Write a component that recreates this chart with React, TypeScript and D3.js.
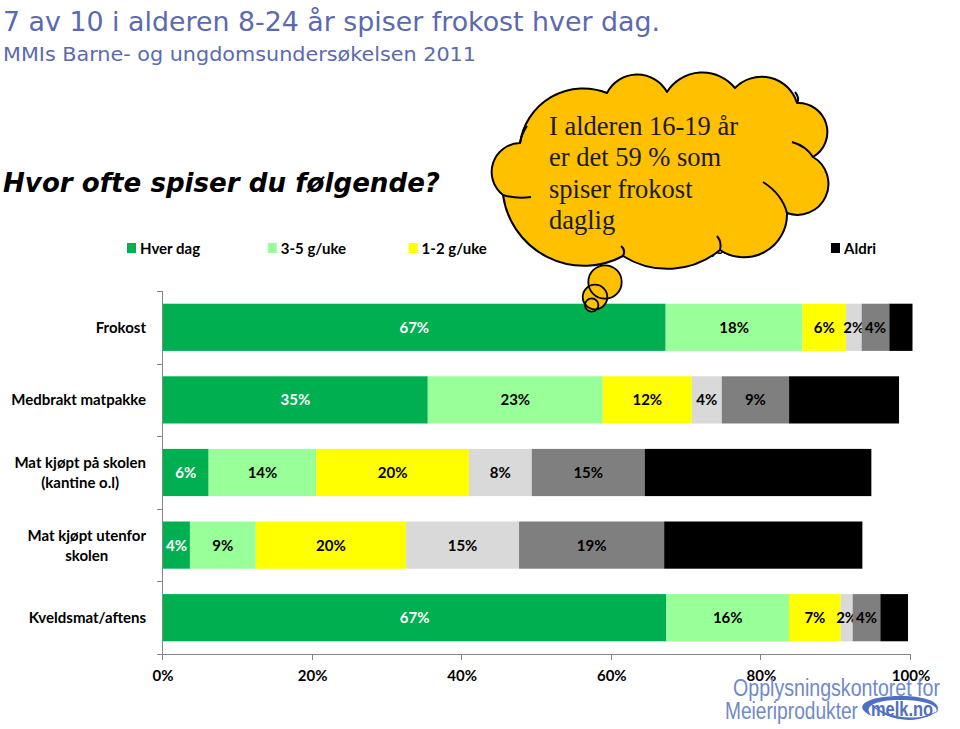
import React, { useEffect, useRef } from "react";
import * as d3 from "d3";

const categories = [
  "Frokost",
  "Medbrakt matpakke",
  "Mat kjøpt på skolen\n(kantine o.l)",
  "Mat kjøpt utenfor\nskolen",
  "Kveldsmat/aftens",
];
const seriesNames = ["Hver dag", "3-5 g/uke", "1-2 g/uke", "1-3 g/mnd", "Sjeldnere", "Aldri"];
const seriesColors = ["#00B050", "#99FF99", "#FFFF00", "#D9D9D9", "#7F7F7F", "#000000"];
const labelColors = ["#FFFFFF", "#000000", "#000000", "#000000", "#000000", "none"];
const hverDag = [67.2, 35.4, 6.1, 3.6, 67.3];
const g35uke = [18.3, 23.4, 14.4, 8.8, 16.4];
const g12uke = [5.8, 11.9, 20.4, 20.1, 6.9];
const g13mnd = [2.1, 4.0, 8.4, 15.1, 1.6];
const sjeldnere = [3.7, 9.0, 15.1, 19.4, 3.7];
const aldri = [3.1, 14.7, 30.3, 26.5, 3.7];
const xTicks = [0, 20, 40, 60, 80, 100];

const titleText = "7 av 10 i alderen 8-24 år spiser frokost hver dag.";
const subtitleText = "MMIs Barne- og ungdomsundersøkelsen 2011";
const questionText = "Hvor ofte spiser du følgende?";
const cloudLines = ["I alderen 16-19 år", "er det 59 % som", "spiser frokost", "daglig"];
const logoLines = ["Opplysningskontoret for", "Meieriprodukter"];

export default function App() {
  const ref = useRef<SVGSVGElement | null>(null);

  useEffect(() => {
    const svg = d3.select(ref.current);
    svg.selectAll("*").remove();

    const left = 163, right = 911, top = 291, bottom = 654;
    const x = d3.scaleLinear().domain([0, 100]).range([left, right]);
    const y = d3.scaleBand<number>().domain(d3.range(categories.length)).range([top, bottom]).paddingInner(0.35).paddingOuter(0.175);

    const rows = categories.map((c, i) => ({
      i,
      s0: hverDag[i], s1: g35uke[i], s2: g12uke[i], s3: g13mnd[i], s4: sjeldnere[i], s5: aldri[i],
    }));
    const keys = ["s0", "s1", "s2", "s3", "s4", "s5"];
    const stacked = d3.stack<any>().keys(keys)(rows);

    const labelFont = "Lato, 'DejaVu Sans', sans-serif";

    // Titles
    svg.append("text").attr("x", 3).attr("y", 31).attr("font-family", "'DejaVu Sans', Verdana, sans-serif")
      .attr("font-size", 27).attr("fill", "#5B6AAF").attr("textLength", 657).attr("lengthAdjust", "spacingAndGlyphs").text(titleText);
    svg.append("text").attr("x", 3).attr("y", 61).attr("font-family", "'DejaVu Sans', Verdana, sans-serif")
      .attr("font-size", 20).attr("fill", "#5B6AAF").attr("textLength", 473).attr("lengthAdjust", "spacingAndGlyphs").text(subtitleText);
    svg.append("text").attr("x", 3).attr("y", 192).attr("font-family", "'DejaVu Sans', Verdana, sans-serif")
      .attr("font-size", 27).attr("font-weight", "bold").attr("font-style", "oblique").attr("fill", "#000")
      .attr("textLength", 437).attr("lengthAdjust", "spacingAndGlyphs").text(questionText);

    // Legend
    const lg = svg.append("g");
    seriesNames.forEach((n, i) => {
      const lx = 127 + i * 140.8;
      lg.append("rect").attr("x", lx).attr("y", 243).attr("width", 9).attr("height", 10).attr("fill", seriesColors[i]);
      lg.append("text").attr("x", lx + 13).attr("y", 253.5).attr("font-family", labelFont).attr("font-weight", "bold")
        .attr("font-size", 15).attr("fill", "#000").text(n);
    });

    // Bars
    stacked.forEach((layer, k) => {
      const g = svg.append("g");
      layer.forEach((d: any, i: number) => {
        const bx = x(d[0]), bw = x(d[1]) - x(d[0]);
        g.append("rect").attr("x", bx).attr("y", y(i)!).attr("width", bw).attr("height", y.bandwidth()).attr("fill", seriesColors[k]);
        if (labelColors[k] !== "none") {
          g.append("text").attr("x", bx + bw / 2).attr("y", y(i)! + y.bandwidth() / 2 + 5.5)
            .attr("text-anchor", "middle").attr("font-family", labelFont).attr("font-weight", "bold").attr("font-size", 15)
            .attr("fill", labelColors[k]).text(Math.round(d[1] - d[0]) + "%");
        }
      });
    });

    // Axes
    const axisColor = "#868686";
    svg.append("line").attr("x1", left - 0.5).attr("x2", left - 0.5).attr("y1", top).attr("y2", bottom).attr("stroke", axisColor);
    svg.append("line").attr("x1", left - 0.5).attr("x2", right).attr("y1", bottom + 0.5).attr("y2", bottom + 0.5).attr("stroke", axisColor);
    d3.range(categories.length + 1).forEach((i) => {
      const ty = Math.round(top + i * y.step()) + 0.5;
      svg.append("line").attr("x1", left - 6).attr("x2", left).attr("y1", ty).attr("y2", ty).attr("stroke", axisColor);
    });
    xTicks.forEach((t) => {
      const tx = Math.round(x(t)) - 0.5;
      svg.append("line").attr("x1", tx).attr("x2", tx).attr("y1", bottom).attr("y2", bottom + 6).attr("stroke", axisColor);
      svg.append("text").attr("x", x(t)).attr("y", 681).attr("text-anchor", "middle").attr("font-family", labelFont)
        .attr("font-weight", "bold").attr("font-size", 15).attr("fill", "#000").text(t + "%");
    });

    // Category labels
    categories.forEach((c, i) => {
      const lines = c.split("\n");
      const cy = y(i)! + y.bandwidth() / 2;
      const t = svg.append("text").attr("font-family", labelFont).attr("font-weight", "bold").attr("font-size", 15).attr("fill", "#000");
      const spans = lines.map((l, j) => t.append("tspan").attr("y", cy + 5.5 + (j - (lines.length - 1) / 2) * 20).text(l));
      const widths = spans.map((s) => (s.node() as SVGTSpanElement).getComputedTextLength());
      const maxW = d3.max(widths) || 0;
      const center = 146 - maxW / 2;
      spans.forEach((s) => s.attr("x", center).attr("text-anchor", "middle"));
    });

    // Thought-bubble cloud: cusp points and arc radii of each bump
    const cloudFill = "#FFC000";
    const cusps: [number, number][] = [
      [503, 195], [520, 143], [607, 93], [667, 92], [735, 88], [797, 103], [813, 157], [787, 213], [720, 250], [623, 256],
    ];
    const radii = [29, 64, 34, 42, 37, 29, 31, 43, 83, 82];
    let dPath = `M${cusps[0][0]},${cusps[0][1]}`;
    cusps.forEach((p, i) => {
      const n = cusps[(i + 1) % cusps.length];
      dPath += ` A${radii[i]},${radii[i]} 0 0 1 ${n[0]},${n[1]}`;
    });
    dPath += " Z";
    const cg = svg.append("g");
    cg.append("path").attr("d", dPath).attr("fill", cloudFill).attr("stroke", "#000").attr("stroke-width", 2).attr("stroke-linejoin", "round");
    const innerArcs = [
      "M503,195 Q516,199 531,197",
      "M520,143 Q522,133 527,126",
      "M797,103 Q800,98 795,92",
      "M813,157 Q806,146 792,142",
      "M787,213 Q782,194 763,182",
      "M720,250 Q722,242 717,236",
      "M623,256 Q626,250 621,246",
    ];
    innerArcs.forEach((p) => cg.append("path").attr("d", p).attr("fill", "none").attr("stroke", "#000").attr("stroke-width", 2));
    const tail: [number, number, number][] = [[605, 282, 16.7], [595, 297, 12.3], [591.7, 305, 6.7]];
    tail.forEach(([cx, cy, r]) => cg.append("circle").attr("cx", cx).attr("cy", cy).attr("r", r).attr("fill", cloudFill));
    tail.forEach(([cx, cy, r]) => cg.append("circle").attr("cx", cx).attr("cy", cy).attr("r", r).attr("fill", "none").attr("stroke", "#000").attr("stroke-width", 1.8));
    cloudLines.forEach((l, j) => {
      cg.append("text").attr("x", 549).attr("y", 135 + j * 31.3).attr("font-family", "'Liberation Serif', 'Times New Roman', serif")
        .attr("font-size", 26.5).attr("fill", "#1a1a1a").text(l);
    });

    // Logo
    const logoColor = "#7089C8";
    svg.append("text").attr("x", 733).attr("y", 696).attr("font-family", "'Liberation Sans Narrow', 'Liberation Sans', sans-serif")
      .attr("font-size", 23).attr("fill", logoColor).attr("textLength", 207).attr("lengthAdjust", "spacingAndGlyphs").text(logoLines[0]);
    svg.append("text").attr("x", 725).attr("y", 719).attr("font-family", "'Liberation Sans Narrow', 'Liberation Sans', sans-serif")
      .attr("font-size", 23).attr("fill", logoColor).attr("textLength", 133).attr("lengthAdjust", "spacingAndGlyphs").text(logoLines[1]);
    svg.append("path").attr("d", "M872,716 C850,706 868,696 900,696 C930,696 946,704 934,716 C944,706 926,700 900,700 C876,700 862,706 872,716 Z")
      .attr("fill", "#4E6FC2");
    svg.append("path").attr("d", "M868,701 C885,724 925,726 942,707 C928,722 888,722 868,701 Z").attr("fill", "#4E6FC2");
    svg.append("text").attr("x", 902).attr("y", 716).attr("text-anchor", "middle").attr("font-family", "'Liberation Sans Narrow', 'Liberation Sans', sans-serif")
      .attr("font-size", 20).attr("font-weight", "bold").attr("fill", "#4E6FC2").attr("textLength", 62).attr("lengthAdjust", "spacingAndGlyphs").text("melk.no");
  }, []);

  return (
    <svg ref={ref} width={960} height={729} style={{ position: "absolute", left: 0, top: 0, background: "#fff" }} />
  );
}
